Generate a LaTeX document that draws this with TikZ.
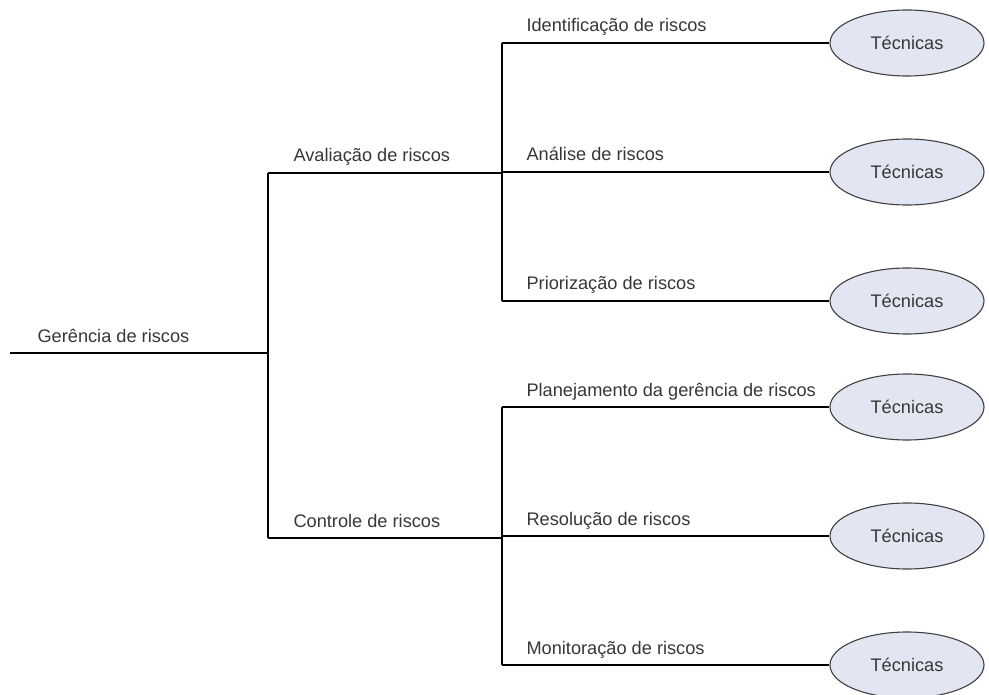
\documentclass[tikz,border=0pt]{standalone}
\usepackage{fontspec}
\setmainfont{Liberation Sans}
\usetikzlibrary{positioning,shapes.geometric}
\definecolor{lavendermist}{RGB}{225,230,242}
\definecolor{slatetext}{RGB}{55,55,55}

\begin{document}
\begin{tikzpicture}[x=1pt, y=-1pt, node distance = 129pt and 0pt, on grid, line width=1.1pt,
  tech/.style={ellipse, fill=lavendermist, draw=black!75, minimum width=154pt, minimum height=66pt, inner sep=0pt, text=slatetext, font=\fontsize{18.2}{21}\selectfont},
  lbl/.style={anchor=base west, inner sep=0pt, text=slatetext, font=\fontsize{18.2}{21}\selectfont}]
			 \useasboundingbox (0,0) rectangle (989,695);
			 % tree junctions
			 \coordinate (START) at (10,353);
			 \coordinate (ROOT) at (268,353);
			 \coordinate (AVL) at (268,173);
			 \coordinate (CTL) at (268,538);
			 \coordinate (AVLJ) at (502,173);
			 \coordinate (CTLJ) at (502,538);
			 % techniques
			 \node [tech] (T1) at (907,43) {Técnicas};
			 \node [tech] (T2) [below =of T1] {Técnicas};
			 \node [tech] (T3) [below =of T2] {Técnicas};
			 \node [tech] (T4) [below =106pt of T3] {Técnicas};
			 \node [tech] (T5) [below =of T4] {Técnicas};
			 \node [tech] (T6) [below =of T5] {Técnicas};
			 \coordinate (B1) at (AVLJ |- T1);
			 \coordinate (B2) at (AVLJ |- T2);
			 \coordinate (B3) at (AVLJ |- T3);
			 \coordinate (B4) at (CTLJ |- T4);
			 \coordinate (B5) at (CTLJ |- T5);
			 \coordinate (B6) at (CTLJ |- T6);
			 % labels
			 \node [lbl] (GR) at (37,342) {Gerência de riscos};
			 \node [lbl] (AR) at (293,162) {Avaliação de riscos};
			 \node [lbl] (CR) at (293,527) {Controle de riscos};
			 \node [lbl] (ID) at (526,32) {Identificação de riscos};
			 \node [lbl] (AN) at (526,161) {Análise de riscos};
			 \node [lbl] (PR) at (526,290) {Priorização de riscos};
			 \node [lbl] (PL) at (526,396) {Planejamento da gerência de riscos};
			 \node [lbl] (RE) at (526,525) {Resolução de riscos};
			 \node [lbl] (MO) at (526,654) {Monitoração de riscos};
			 \draw (START) -- (ROOT);
			 \draw (AVL) -- (CTL);
			 \draw (AVL) -- (AVLJ);
			 \draw (CTL) -- (CTLJ);
			 \draw (B1) -- (B3);
			 \draw (B4) -- (B6);
			 \draw (B1) -- (T1);
			 \draw (B2) -- (T2);
			 \draw (B3) -- (T3);
			 \draw (B4) -- (T4);
			 \draw (B5) -- (T5);
			 \draw (B6) -- (T6);
		\end{tikzpicture}
\end{document}
